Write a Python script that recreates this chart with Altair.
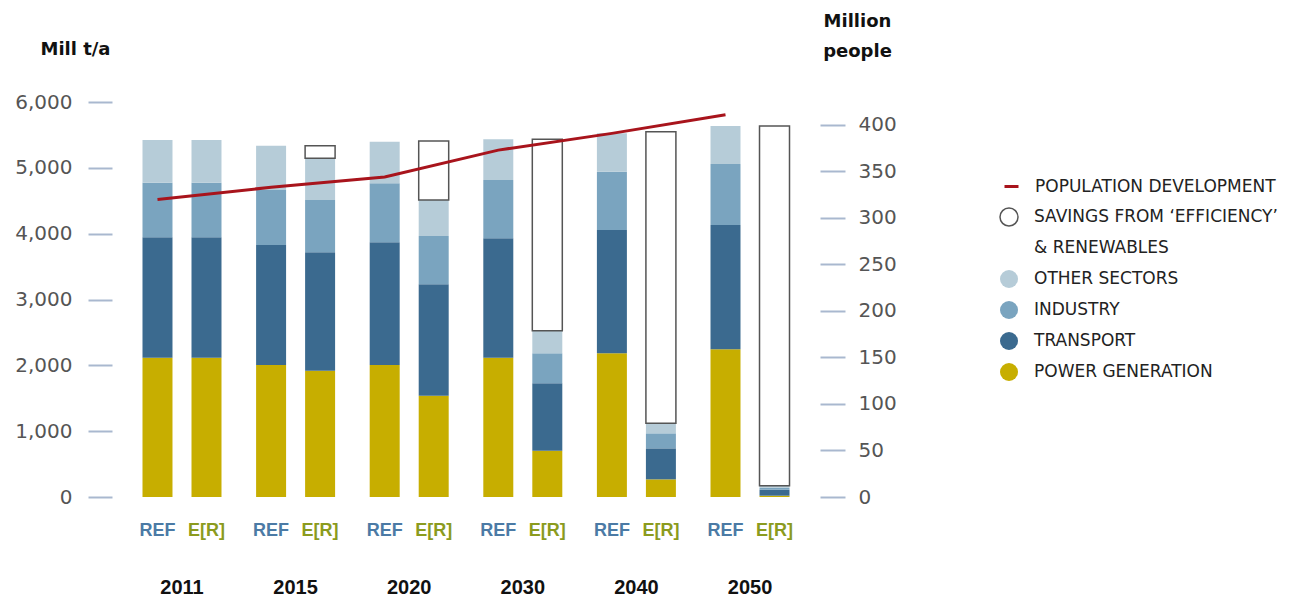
import altair as alt
import pandas as pd

# ---------------- data ----------------
years = ["2011", "2015", "2020", "2030", "2040", "2050"]
scenarios = ["REF", "E[R]"]

power_ref = [2116, 2005, 2005, 2116, 2183, 2243]
transport_ref = [1829, 1823, 1864, 1813, 1873, 1889]
industry_ref = [829, 836, 896, 886, 886, 926]
other_ref = [649, 673, 632, 618, 583, 578]

power_er = [2116, 1919, 1539, 703, 268, 20]
transport_er = [1829, 1798, 1692, 1024, 471, 90]
industry_er = [829, 795, 734, 456, 228, 30]
other_er = [649, 633, 547, 343, 152, 32]
savings_er = [0, 192, 896, 2907, 4430, 5464]

population = [320, 333, 344, 373, 391, 411]

sectors = ["POWER GENERATION", "TRANSPORT", "INDUSTRY", "OTHER SECTORS",
           "SAVINGS FROM \u2018EFFICIENCY\u2019"]
legend_domain = ["SAVINGS FROM \u2018EFFICIENCY\u2019", "& RENEWABLES",
                 "OTHER SECTORS", "INDUSTRY", "TRANSPORT", "POWER GENERATION"]
fill_range = ["#ffffff", "rgba(0,0,0,0)", "#b6ccd8", "#7aa4bf", "#3b6a8f", "#c7ae00"]
stroke_range = ["#555555", "rgba(0,0,0,0)", "rgba(0,0,0,0)", "rgba(0,0,0,0)",
                "rgba(0,0,0,0)", "rgba(0,0,0,0)"]

# ---------------- tables ----------------
rows = []
ref_series = [power_ref, transport_ref, industry_ref, other_ref, [0] * 6]
er_series = [power_er, transport_er, industry_er, other_er, savings_er]
for i, y in enumerate(years):
    for scen, series in (("REF", ref_series), ("E[R]", er_series)):
        for k, sec in enumerate(sectors):
            v = series[k][i]
            if v > 0:
                rows.append({"year": y, "scen": scen, "sector": sec,
                             "ord": k, "value": v})
bars_df = pd.DataFrame(rows)

labels_df = pd.DataFrame([{"year": y, "scen": s} for y in years for s in scenarios])
pop_df = pd.DataFrame({"year": years, "scen": ["REF"] * 6, "pop": population,
                       "series": ["POPULATION DEVELOPMENT"] * 6})

# ---------------- shared encodings ----------------
x_enc = alt.X("year:N",
              scale=alt.Scale(domain=years, paddingInner=0.3046, paddingOuter=0.198),
              axis=alt.Axis(title=None, domain=False, ticks=False, labelAngle=0,
                            labelFont="Liberation Sans",
                            labelFontWeight="bold", labelFontSize=20,
                            labelColor="#111111", labelPadding=80))
xoff_enc = alt.XOffset("scen:N",
                       scale=alt.Scale(domain=scenarios, paddingInner=0.388, paddingOuter=0))

tick_color = "#a9b8cf"
label_font = "DejaVu Sans"

legend_bars = alt.Legend(title=None, orient="none", legendX=879, legendY=105,
                         symbolType="circle", symbolSize=324, symbolStrokeWidth=1.5,
                         labelFont=label_font, labelFontSize=17, labelColor="#222222",
                         labelOffset=15, rowPadding=7, labelLimit=400, padding=0)

bars = alt.Chart(bars_df).mark_bar(strokeWidth=1.5).encode(
    x=x_enc,
    xOffset=xoff_enc,
    y=alt.Y("value:Q", stack="zero",
            scale=alt.Scale(domain=[0, 6000], nice=False),
            axis=alt.Axis(values=[0, 1000, 2000, 3000, 4000, 5000, 6000], format=",.0f",
                          grid=False, domain=False, tickSize=24, tickWidth=2,
                          tickColor=tick_color, offset=8, labelPadding=16,
                          labelFont=label_font, labelFontSize=20, labelColor="#555555",
                          title="Mill t/a", titleAngle=0, titleX=-37, titleY=-53,
                          titleAlign="center", titleBaseline="middle",
                          titleFont=label_font, titleFontSize=18,
                          titleFontWeight="bold", titleColor="#111111")),
    fill=alt.Fill("sector:N", scale=alt.Scale(domain=legend_domain, range=fill_range),
                  legend=legend_bars),
    stroke=alt.Stroke("sector:N", scale=alt.Scale(domain=legend_domain, range=stroke_range),
                      legend=legend_bars),
    order=alt.Order("ord:Q", sort="ascending"),
)

scen_labels = alt.Chart(labels_df).mark_text(
    font="Liberation Sans", fontWeight="bold", fontSize=18,
    baseline="middle",
).encode(
    x=x_enc,
    xOffset=xoff_enc,
    y=alt.value(429),
    text="scen:N",
    color=alt.condition("datum.scen == 'REF'", alt.value("#4b7aa5"), alt.value("#8b9b1e")),
)

line = alt.Chart(pop_df).mark_line(strokeWidth=3).encode(
    x=x_enc,
    xOffset=xoff_enc,
    y=alt.Y("pop:Q",
            scale=alt.Scale(domain=[0, 424.73], nice=False, zero=True),
            axis=alt.Axis(orient="right", values=[0, 50, 100, 150, 200, 250, 300, 350, 400],
                          grid=False, domain=False, tickSize=25, tickWidth=2,
                          tickColor=tick_color, offset=8, labelPadding=13,
                          labelFont=label_font, labelFontSize=20, labelColor="#555555",
                          title=["Million", "people"], titleAngle=0, titleX=37, titleY=-90,
                          titleAlign="center", titleBaseline="top", titleLineHeight=30,
                          titleFont=label_font, titleFontSize=18,
                          titleFontWeight="bold", titleColor="#111111")),
    color=alt.Color("series:N",
                    scale=alt.Scale(domain=["POPULATION DEVELOPMENT"], range=["#a8141c"]),
                    legend=alt.Legend(title=None, orient="none", legendX=883, legendY=76,
                                      symbolType="stroke", symbolSize=196,
                                      symbolStrokeWidth=3, labelFont=label_font,
                                      labelFontSize=17, labelColor="#222222",
                                      labelOffset=15, labelLimit=400, padding=0)),
)

chart = alt.layer(bars, scen_labels, line).resolve_scale(
    y="independent"
).properties(
    width=692, height=395,
    autosize=alt.AutoSizeParams(type="none"),
    padding={"left": 120, "top": 102, "right": 498, "bottom": 102},
    background="white",
).configure_view(stroke=None)

chart.save("out.html", embed_options={"renderer": "svg", "actions": False})
